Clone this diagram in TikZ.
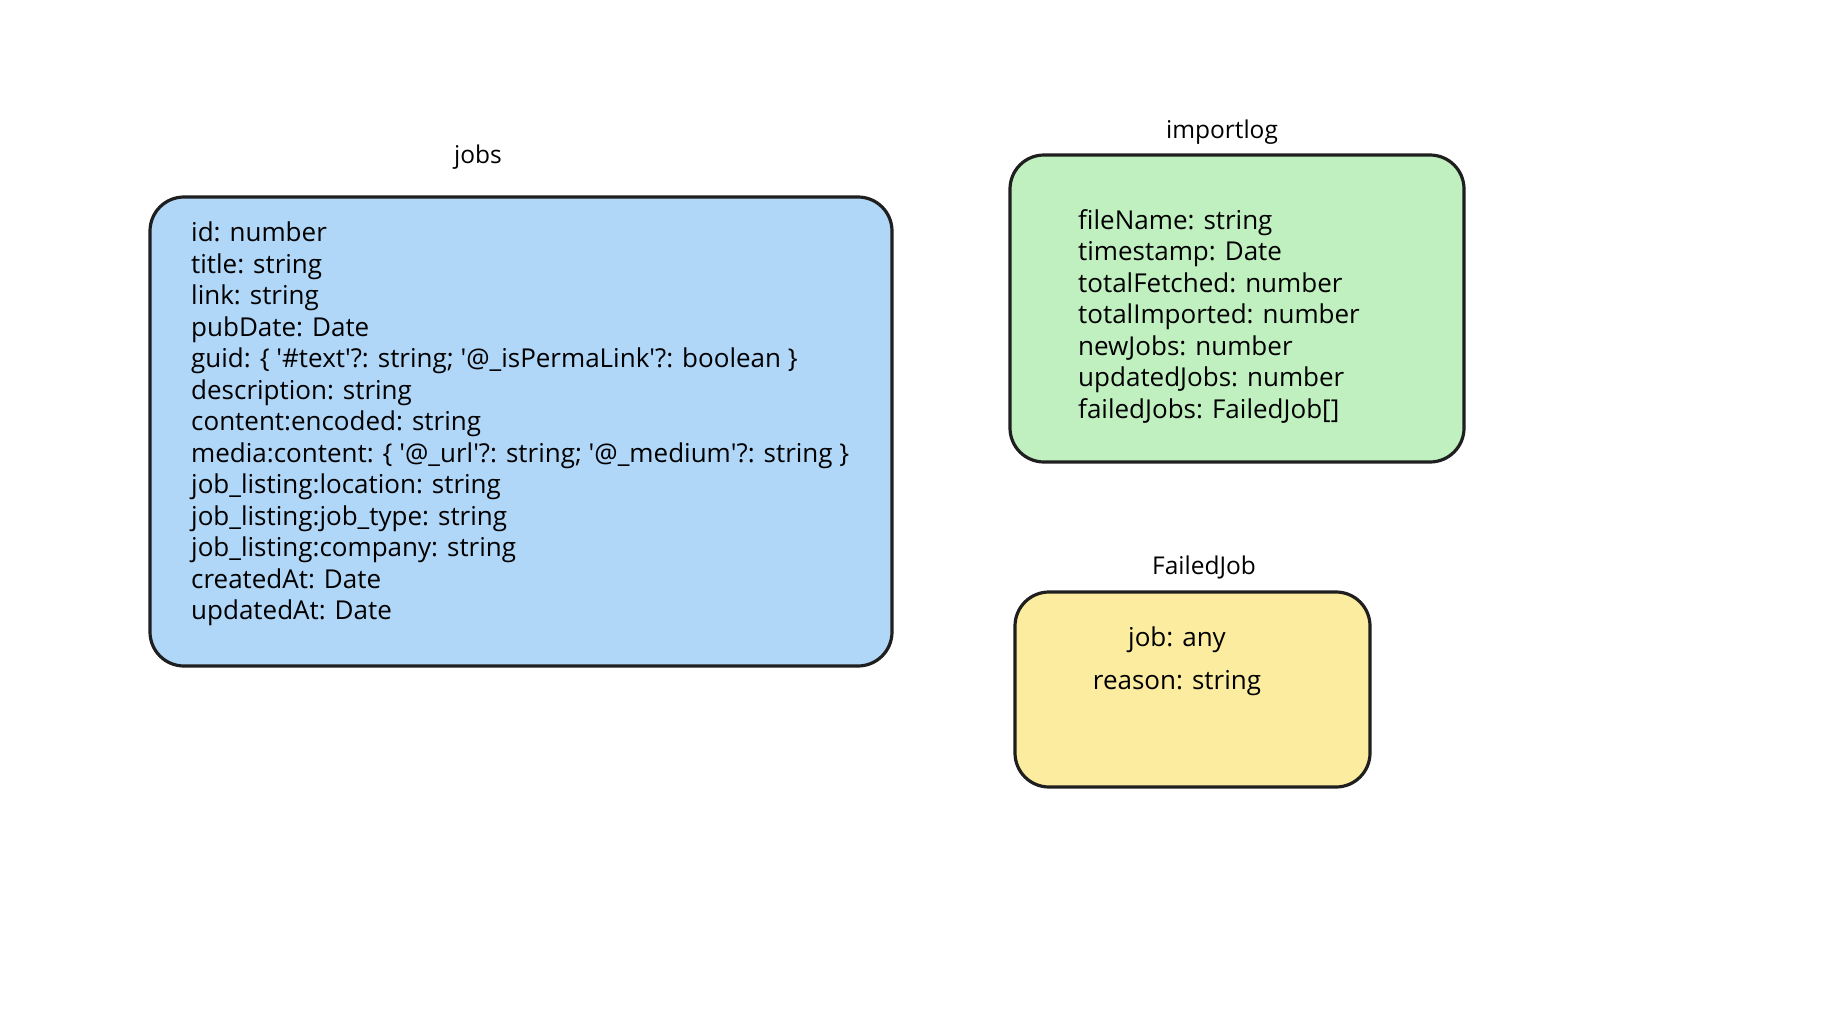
\documentclass[tikz,border=0pt]{standalone}
\usepackage{fontspec}
\setmainfont{Open Sans}
\usetikzlibrary{positioning}
\definecolor{jobsblue}{RGB}{176,214,248}
\definecolor{loggreen}{RGB}{192,240,192}
\definecolor{failyellow}{RGB}{252,236,160}
\newcommand{\q}{\textquotesingle}
\tikzset{
  table/.style={draw=black!88, line width=3.2pt, rounded corners=34pt, inner sep=0pt},
  fields/.style={inner sep=0pt, align=left, font=\fontsize{26}{31.5}\selectfont},
  tname/.style={inner sep=0pt, font=\fontsize{24.5}{28}\selectfont}
}
\begin{document}
\begin{tikzpicture}[x=1pt,y=-1pt]
  \useasboundingbox (0,0) rectangle (1842,1012);
  \node [table, fill=jobsblue, minimum width=742pt, minimum height=469pt] (jobs) at (521,431.5) {};
  \node [table, fill=loggreen, minimum width=454pt, minimum height=307pt] (importlog) at (1237,308.5) {};
  \node [table, fill=failyellow, minimum width=355pt, minimum height=195pt] (failedjob) at (1192.5,689.5) {};
  \node [tname] (jobstitle) at (478,157) {jobs};
  \node [tname] (logtitle) at (1222,132) {importlog};
  \node [tname] (failtitle) at (1204,567) {FailedJob};
  \node [fields, anchor=north west] (jobsfields) at (191,222) {id: number\\
    title: string\\
    link: string\\
    pubDate: Date\\
    guid: \{ \q\#text\q?: string; \q@\_isPermaLink\q?: boolean \}\\
    description: string\\
    content:encoded: string\\
    media:content: \{ \q@\_url\q?: string; \q@\_medium\q?: string \}\\
    job\_listing:location: string\\
    job\_listing:job\_type: string\\
    job\_listing:company: string\\
    createdAt: Date\\
    updatedAt: Date};
  \node [fields, anchor=north west] (logfields) at (1078,209) {fileName: string\\
    timestamp: Date\\
    totalFetched: number\\
    totalImported: number\\
    newJobs: number\\
    updatedJobs: number\\
    failedJobs: FailedJob[]};
  \node [fields, align=center, anchor=north, font=\fontsize{26}{43}\selectfont] (failfields) at (1177,627) {job: any\\
    reason: string};
\end{tikzpicture}
\end{document}
